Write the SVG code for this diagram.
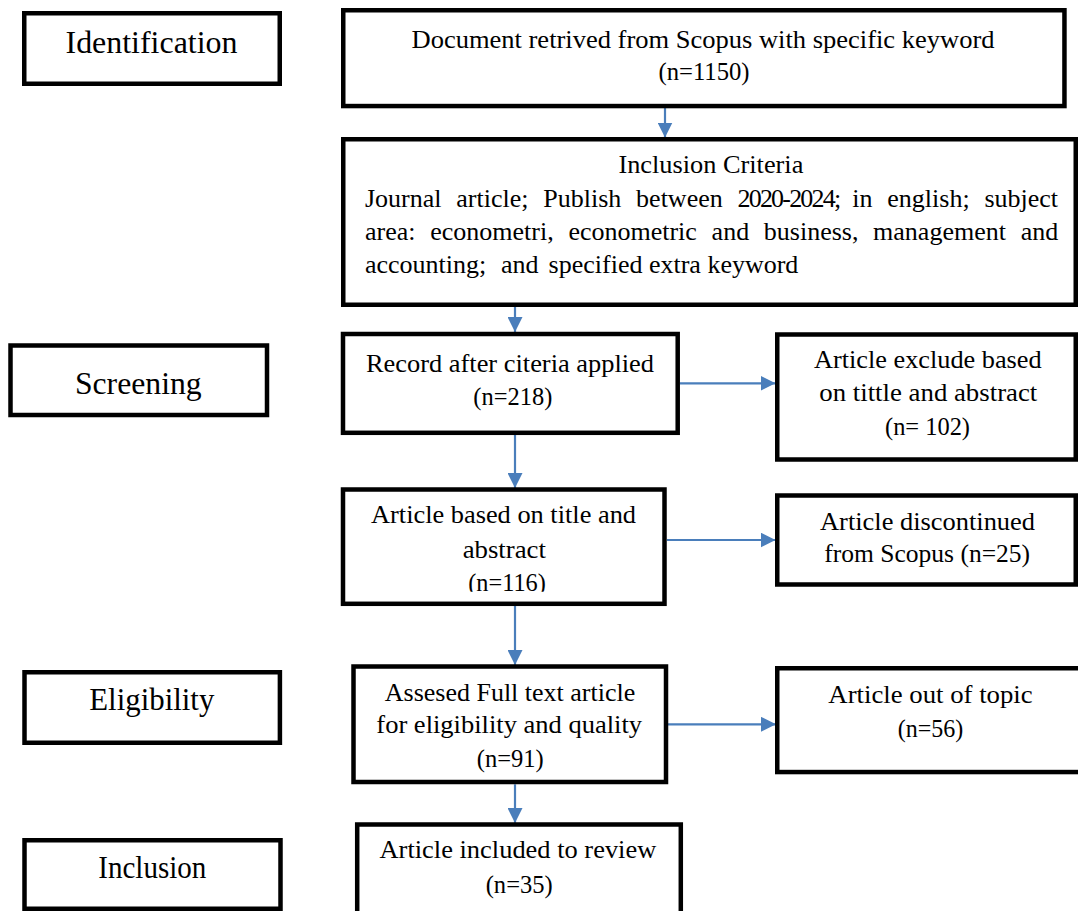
<svg xmlns="http://www.w3.org/2000/svg" width="1078" height="911" viewBox="0 0 1078 911">
<defs>
<style>
.box{fill:#fff;stroke:#000;stroke-width:4.5;stroke-linejoin:miter}
.t{font-family:"Liberation Serif","Times New Roman",serif;font-size:26px;fill:#000}
.s{font-family:"Liberation Serif","Times New Roman",serif;font-size:31px;fill:#000}
.c{text-anchor:middle}
.ln{stroke:#4A7EBB;stroke-width:2.2;fill:none}
.tight{letter-spacing:-1.8px}
</style>
<marker id="ah" markerUnits="userSpaceOnUse" markerWidth="15" markerHeight="15" refX="15" refY="7.5" orient="auto">
<path d="M0,0 L15,7.5 L0,15 z" fill="#4A7EBB"/>
</marker>
<clipPath id="clipA"><rect x="340" y="487" width="330" height="104.7"/></clipPath>
</defs>
<rect width="1078" height="911" fill="#fff"/>

<g id="connectors">
<line class="ln" x1="665" y1="108" x2="665" y2="137.5" marker-end="url(#ah)"/>
<line class="ln" x1="515" y1="307" x2="515" y2="332" marker-end="url(#ah)"/>
<line class="ln" x1="680" y1="383.3" x2="775.5" y2="383.3" marker-end="url(#ah)"/>
<line class="ln" x1="515" y1="435" x2="515" y2="488" marker-end="url(#ah)"/>
<line class="ln" x1="667" y1="540" x2="775.5" y2="540" marker-end="url(#ah)"/>
<line class="ln" x1="515" y1="606" x2="515" y2="665" marker-end="url(#ah)"/>
<line class="ln" x1="668" y1="724.3" x2="776" y2="724.3" marker-end="url(#ah)"/>
<line class="ln" x1="515" y1="784.3" x2="515" y2="823" marker-end="url(#ah)"/>
</g>

<g id="identification">
<rect class="box" x="24.25" y="13.25" width="255.5" height="70.5"/>
<text class="s c" x="151.5" y="53.3" textLength="172" lengthAdjust="spacingAndGlyphs">Identification</text>
</g>

<g id="document">
<rect class="box" x="343.25" y="10.25" width="721.2" height="95.8"/>
<text class="t c" x="703" y="47.7" textLength="583" lengthAdjust="spacingAndGlyphs">Document retrived from Scopus with specific keyword</text>
<text class="t c" x="704" y="80" textLength="91" lengthAdjust="spacingAndGlyphs">(n=1150)</text>
</g>

<g id="inclusion-criteria">
<rect class="box" x="343.25" y="139.25" width="732.5" height="165.5"/>
<text class="t c" x="710.9" y="173.3" textLength="185" lengthAdjust="spacingAndGlyphs">Inclusion Criteria</text>
<text class="t" y="206.7"><tspan x="365">Journal</tspan><tspan x="456.3">article;</tspan><tspan x="543.3">Publish</tspan><tspan x="636.1">between</tspan><tspan x="737.5" class="tight">2020-2024;</tspan><tspan x="852.3">in</tspan><tspan x="887.3">english;</tspan><tspan x="984.4">subject</tspan></text>
<text class="t" y="240"><tspan x="365">area:</tspan><tspan x="430.2">econometri,</tspan><tspan x="568.4">econometric</tspan><tspan x="711.6">and</tspan><tspan x="763.8">business,</tspan><tspan x="873.1">management</tspan><tspan x="1020.7">and</tspan></text>
<text class="t" y="273.3"><tspan x="365">accounting;</tspan><tspan x="501">and</tspan><tspan x="548.6">specified extra keyword</tspan></text>
</g>

<g id="screening">
<rect class="box" x="10.5" y="345.5" width="256.5" height="69.5"/>
<text class="s c" x="138.3" y="394" textLength="126.7" lengthAdjust="spacingAndGlyphs">Screening</text>
</g>

<g id="record">
<rect class="box" x="343" y="334" width="334.7" height="98.8"/>
<text class="t c" x="510" y="371.7" textLength="288" lengthAdjust="spacingAndGlyphs">Record after citeria applied</text>
<text class="t c" x="512.8" y="405" textLength="79" lengthAdjust="spacingAndGlyphs">(n=218)</text>
</g>

<g id="exclude">
<rect class="box" x="777.25" y="334.5" width="298.5" height="125"/>
<text class="t c" x="927.8" y="368.3" textLength="227.7" lengthAdjust="spacingAndGlyphs">Article exclude based</text>
<text class="t c" x="928.3" y="401" textLength="218" lengthAdjust="spacingAndGlyphs">on tittle and abstract</text>
<text class="t c" x="927.5" y="435" textLength="85" lengthAdjust="spacingAndGlyphs">(n= 102)</text>
</g>

<g id="article-based">
<rect class="box" x="343" y="489.5" width="321.5" height="114.3"/>
<text class="t c" x="503.5" y="523.3" textLength="265" lengthAdjust="spacingAndGlyphs">Article based on title and</text>
<text class="t c" x="504.3" y="558.3" textLength="83.3" lengthAdjust="spacingAndGlyphs">abstract</text>
<text class="t c" x="507" y="591" textLength="77.7" lengthAdjust="spacingAndGlyphs" clip-path="url(#clipA)">(n=116)</text>
</g>

<g id="discontinued">
<rect class="box" x="777.25" y="495.5" width="298.5" height="89"/>
<text class="t c" x="927.5" y="530" textLength="215" lengthAdjust="spacingAndGlyphs">Article discontinued</text>
<text class="t c" x="927.2" y="561.7" textLength="205.7" lengthAdjust="spacingAndGlyphs">from Scopus (n=25)</text>
</g>

<g id="eligibility">
<rect class="box" x="24.5" y="672.25" width="255.4" height="70.5"/>
<text class="s c" x="151.8" y="710" textLength="125" lengthAdjust="spacingAndGlyphs">Eligibility</text>
</g>

<g id="assessed">
<rect class="box" x="353.5" y="666.5" width="312.5" height="115.5"/>
<text class="t c" x="510" y="700.7" textLength="250.5" lengthAdjust="spacingAndGlyphs">Assesed Full text article</text>
<text class="t c" x="509.2" y="733.3" textLength="265.7" lengthAdjust="spacingAndGlyphs">for eligibility and quality</text>
<text class="t c" x="510.3" y="766.7" textLength="67" lengthAdjust="spacingAndGlyphs">(n=91)</text>
</g>

<g id="out-of-topic">
<rect class="box" x="777.25" y="668.25" width="310" height="103.8"/>
<text class="t c" x="930.5" y="702.7" textLength="204.4" lengthAdjust="spacingAndGlyphs">Article out of  topic</text>
<text class="t c" x="930.5" y="736.7" textLength="65.6" lengthAdjust="spacingAndGlyphs">(n=56)</text>
</g>

<g id="inclusion">
<rect class="box" x="24.5" y="840.25" width="256" height="68.5"/>
<text class="s c" x="152.3" y="878.3" textLength="108" lengthAdjust="spacingAndGlyphs">Inclusion</text>
</g>

<g id="included">
<rect class="box" x="357.2" y="824.5" width="323.6" height="100"/>
<text class="t c" x="517.9" y="858.3" textLength="276.8" lengthAdjust="spacingAndGlyphs">Article included to review</text>
<text class="t c" x="519.2" y="892.7" textLength="67" lengthAdjust="spacingAndGlyphs">(n=35)</text>
</g>
</svg>
